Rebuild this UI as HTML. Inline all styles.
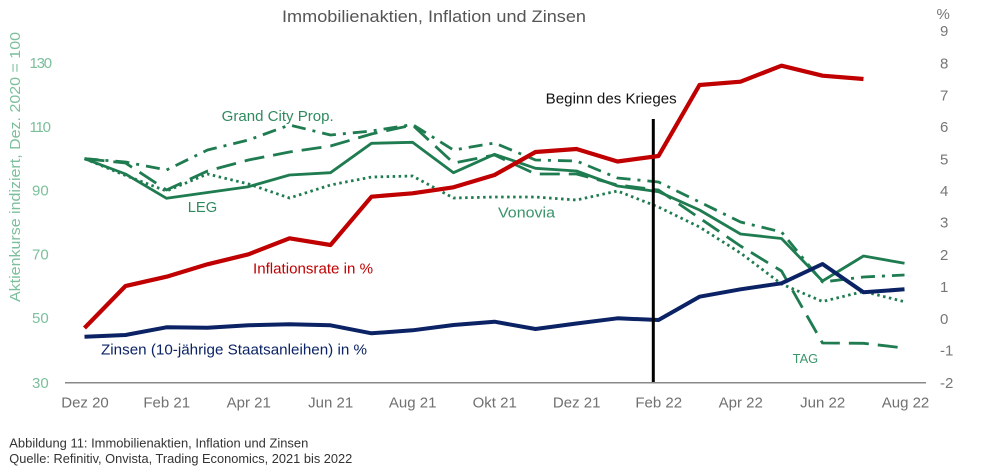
<!DOCTYPE html>
<html><head><meta charset="utf-8"><style>
html,body{margin:0;padding:0;background:#fff;}
svg{display:block;}
text{font-family:"Liberation Sans",Arial,sans-serif;}
</style></head><body>
<svg width="991" height="473" viewBox="0 0 991 473" xmlns="http://www.w3.org/2000/svg">
<rect width="991" height="473" fill="#fff"/>
<!-- title -->
<text x="434" y="22" font-size="17" fill="#555" text-anchor="middle" textLength="304" lengthAdjust="spacingAndGlyphs">Immobilienaktien, Inflation und Zinsen</text>
<!-- left axis -->
<text transform="translate(20,167) rotate(-90)" font-size="15" fill="#7cbf9c" text-anchor="middle" textLength="270" lengthAdjust="spacingAndGlyphs">Aktienkurse indiziert, Dez. 2020 = 100</text>
<g font-size="15" fill="#7cbf9c">
<text x="29.5" y="68" letter-spacing="-1.2">130</text>
<text x="29.5" y="132" letter-spacing="-1.2">110</text>
<text x="32" y="195.5">90</text>
<text x="32" y="259.5">70</text>
<text x="32" y="323">50</text>
<text x="32" y="388">30</text>
</g>
<!-- right axis -->
<g font-size="15" fill="#777">
<text x="936.5" y="19">%</text>
<text x="940" y="36">9</text>
<text x="940" y="68.5">8</text>
<text x="940" y="100.5">7</text>
<text x="940" y="132">6</text>
<text x="940" y="164.5">5</text>
<text x="940" y="196">4</text>
<text x="940" y="227.5">3</text>
<text x="940" y="260">2</text>
<text x="940" y="292">1</text>
<text x="940" y="324">0</text>
<text x="940" y="355.5">-1</text>
<text x="940" y="388">-2</text>
</g>
<!-- x axis -->
<line x1="65" y1="382.7" x2="926" y2="382.7" stroke="#888" stroke-width="1.5"/>
<g font-size="15" fill="#707070" text-anchor="middle">
<text x="85" y="407.5">Dez 20</text>
<text x="166.7" y="407.5">Feb 21</text>
<text x="248.7" y="407.5">Apr 21</text>
<text x="330.7" y="407.5">Jun 21</text>
<text x="412.7" y="407.5">Aug 21</text>
<text x="494.7" y="407.5">Okt 21</text>
<text x="576.7" y="407.5">Dez 21</text>
<text x="658.7" y="407.5">Feb 22</text>
<text x="740.7" y="407.5">Apr 22</text>
<text x="822.7" y="407.5">Jun 22</text>
<text x="905.5" y="407.5">Aug 22</text>
</g>
<!-- green series -->
<g fill="none" stroke="#1f7b50" stroke-width="2.8" stroke-linejoin="round">
<!-- LEG solid -->
<polyline points="84.5,158.7 125.5,174 166.5,198.3 207.5,192.5 248.5,186.7 289.5,175 330.5,172.7 371.5,143.3 412.5,142.3 453.5,172.7 494.5,154.3 535.5,168.3 576.5,171 617.5,186 658.5,191.7 699.5,210 740.5,234 781.5,238.5 822.5,281 863.5,256 904.5,263.3"/>
<!-- Grand City dash-dot -->
<polyline stroke-dasharray="14 7 3 7" points="84.5,158.7 125.5,162 166.5,170 207.5,150 248.5,140 289.5,125 330.5,135 371.5,131 412.5,124.5 453.5,150 494.5,143 535.5,160 576.5,161 617.5,178 658.5,182 699.5,202 740.5,222 781.5,232 822.5,282 863.5,277 904.5,275"/>
<!-- TAG long dash -->
<polyline stroke-dasharray="20 9" points="84.5,158.7 125.5,163 166.5,190 207.5,171 248.5,160 289.5,152 330.5,146 371.5,134 412.5,125 453.5,163 494.5,155 535.5,174 576.5,174 617.5,185 658.5,190 699.5,218 740.5,246 781.5,271 822.5,343 863.5,343.3 904.5,348"/>
<!-- Vonovia dotted -->
<polyline stroke-dasharray="2.5 3.5" points="84.5,158.7 125.5,175.5 166.5,191 207.5,174 248.5,184 289.5,198 330.5,185 371.5,177 412.5,176 453.5,198 494.5,197 535.5,197 576.5,200 617.5,191 658.5,207 699.5,227 740.5,253 781.5,284 822.5,301.5 863.5,291.5 904.5,301.7"/>
</g>
<!-- navy -->
<polyline fill="none" stroke="#0b2365" stroke-width="4" stroke-linejoin="round" points="84.5,336.7 125.5,335 166.5,327.3 207.5,327.7 248.5,325.3 289.5,324.3 330.5,325.3 371.5,333.3 412.5,330.3 453.5,325 494.5,321.7 535.5,329 576.5,323.5 617.5,318.3 658.5,320 699.5,296.7 740.5,289.3 781.5,283.3 822.5,264 863.5,292.3 904.5,289.3"/>
<!-- vertical war line -->
<line x1="653.3" y1="119" x2="653.3" y2="382" stroke="#000" stroke-width="3"/>
<!-- red -->
<polyline fill="none" stroke="#c00000" stroke-width="4.2" stroke-linejoin="round" points="84.5,328 125.5,286 166.5,276.7 207.5,264.3 248.5,254.3 289.5,238.3 330.5,245 371.5,196.7 412.5,193.3 453.5,187.3 494.5,175 535.5,152 576.5,149 617.5,161.5 658.5,156 699.5,85 740.5,81.7 781.5,65.7 822.5,75.7 863.5,79"/>
<!-- labels -->
<text x="545.7" y="103.5" font-size="15" fill="#111" textLength="131" lengthAdjust="spacingAndGlyphs">Beginn des Krieges</text>
<text x="221.7" y="121" font-size="15" fill="#2f8a5f" textLength="112" lengthAdjust="spacingAndGlyphs">Grand City Prop.</text>
<text x="187.7" y="212" font-size="15" fill="#2f8a5f" textLength="29.5" lengthAdjust="spacingAndGlyphs">LEG</text>
<text x="498" y="217.5" font-size="15" fill="#3a946a" textLength="57" lengthAdjust="spacingAndGlyphs">Vonovia</text>
<text x="253" y="273.5" font-size="15" fill="#c00000" textLength="120" lengthAdjust="spacingAndGlyphs">Inflationsrate in %</text>
<text x="101" y="354.5" font-size="15" fill="#0b2365" textLength="266" lengthAdjust="spacingAndGlyphs">Zinsen (10-jährige Staatsanleihen) in %</text>
<text x="792.7" y="363" font-size="12.5" fill="#3a946a" textLength="25.5" lengthAdjust="spacingAndGlyphs">TAG</text>
<!-- caption -->
<text x="9.3" y="447.3" font-size="13" fill="#333" textLength="299" lengthAdjust="spacingAndGlyphs">Abbildung 11: Immobilienaktien, Inflation  und Zinsen</text>
<text x="9.3" y="463" font-size="13" fill="#333" textLength="343" lengthAdjust="spacingAndGlyphs">Quelle: Refinitiv, Onvista, Trading Economics, 2021 bis 2022</text>
</svg>
</body></html>
